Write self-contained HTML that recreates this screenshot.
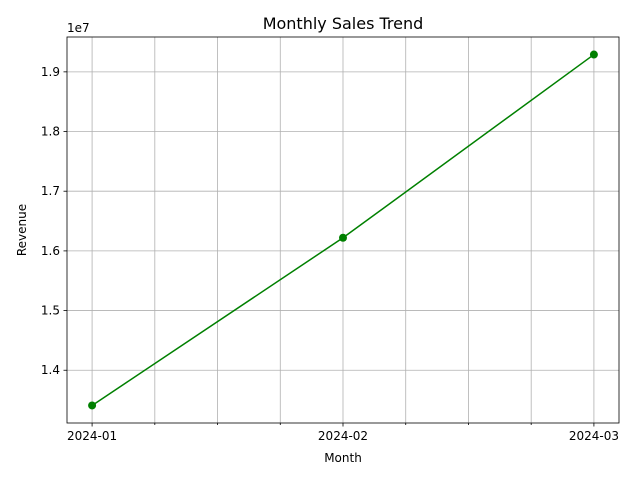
<!DOCTYPE html>
<html><head><meta charset="utf-8"><style>
body{margin:0;background:#fff;font-family:"Liberation Sans","DejaVu Sans",sans-serif;}
svg text{font-family:"DejaVu Sans","Liberation Sans",sans-serif;}
</style></head><body>
<svg id="chart" width="640" height="480" xmlns="http://www.w3.org/2000/svg">
<rect width="640" height="480" fill="#fff"/>
<g id="grid"></g><g id="axes"></g><g id="series"></g>
<text x="343" y="29" font-size="16" text-anchor="middle">Monthly Sales Trend</text>
<text x="343" y="462" font-size="12" text-anchor="middle">Month</text>
<text transform="translate(26,230) rotate(-90)" font-size="12" text-anchor="middle">Revenue</text>
<text x="67" y="32" font-size="12">1e7</text>
</svg>
<script>
const categories = ["2024-01","2024-02","2024-03"];
const revenue = [1.341, 1.622, 1.929]; // in units of 1e7
const yTicks = [1.4,1.5,1.6,1.7,1.8,1.9];
const ns="http://www.w3.org/2000/svg";
const L=67,R=619,T=37,B=423;
const xMin=-0.1,xMax=2.1,yMin=1.3116,yMax=1.9584;
const xs=v=>L+(v-xMin)/(xMax-xMin)*(R-L);
const ys=v=>B-(v-yMin)/(yMax-yMin)*(B-T);
function mk(tag,attrs,parent){const e=document.createElementNS(ns,tag);for(const k in attrs)e.setAttribute(k,attrs[k]);document.getElementById(parent).appendChild(e);return e;}
// x grid: major + minor (quarters)
for(let i=0;i<=(categories.length-1)*4;i++){
  const v=i/4,x=xs(v);
  const g=mk('line',{x1:x,x2:x,y1:T,y2:B,stroke:'#b0b0b0','stroke-width':0.8},'grid');
  
  
  const t=mk('line',{x1:x,x2:x,y1:B,y2:B+(i%4==0?3.5:2),stroke:'#000','stroke-width':0.8},'axes');
  
  
}
categories.forEach((c,i)=>{
  const t=mk('text',{x:xs(i),y:B+17,'font-size':12,'text-anchor':'middle'},'axes');t.textContent=c;
  
  
});
yTicks.forEach(v=>{
  const y=ys(v);
  const g=mk('line',{x1:L,x2:R,y1:y,y2:y,stroke:'#b0b0b0','stroke-width':0.8},'grid');
  
  
  const t=mk('line',{x1:L-3.5,x2:L,y1:y,y2:y,stroke:'#000','stroke-width':0.8},'axes');
  
  
  const l=mk('text',{x:L-7,y:y+4,'font-size':12,'text-anchor':'end'},'axes');l.textContent=v.toFixed(1);
  
  
});
const frame=mk('rect',{x:L,y:T,width:R-L,height:B-T,fill:'none',stroke:'#000','stroke-width':0.8},'axes');


const line=mk('polyline',{points:revenue.map((v,i)=>xs(i)+','+ys(v)).join(' '),fill:'none',stroke:'#008000','stroke-width':1.5},'series');


revenue.forEach((v,i)=>{
  const p=mk('circle',{cx:xs(i),cy:ys(v),r:4,fill:'#008000'},'series');
  
  
});
</script>
</body></html>
